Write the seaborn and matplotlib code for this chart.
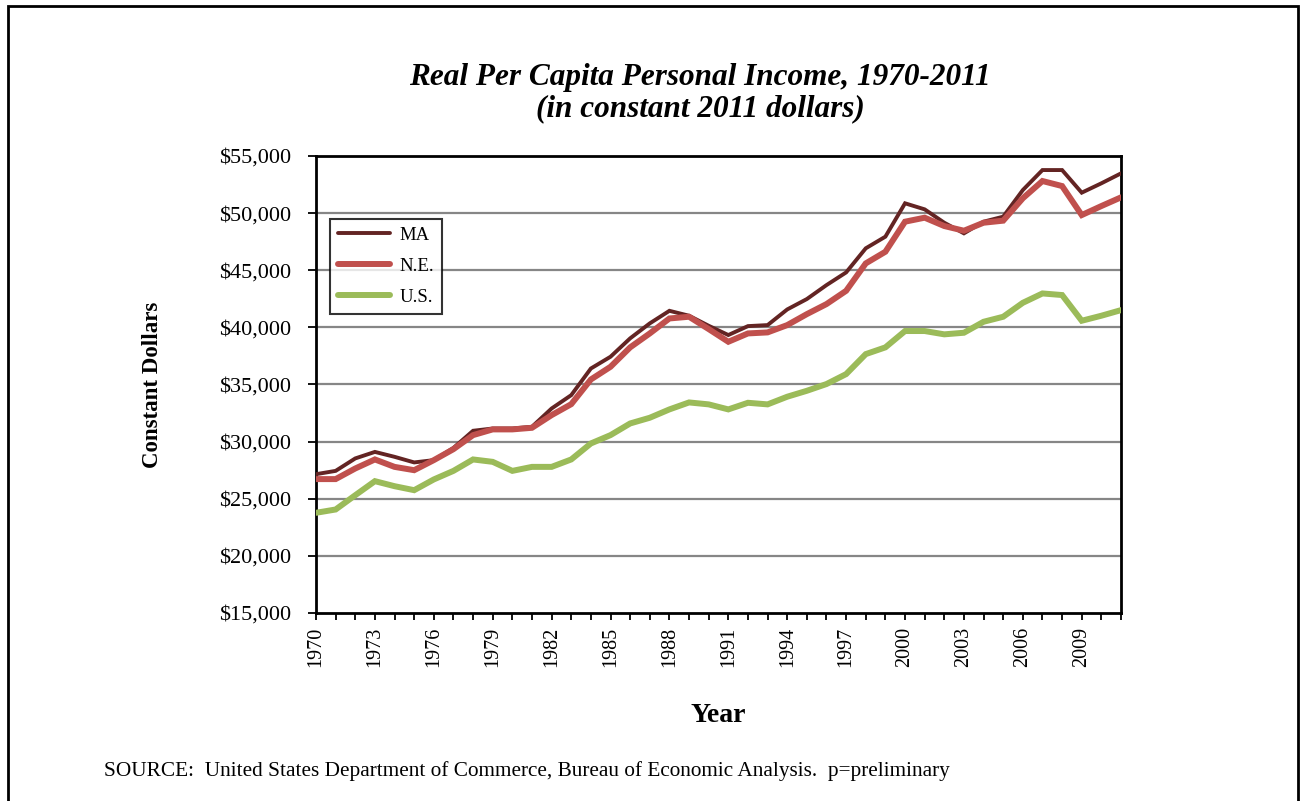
import matplotlib
matplotlib.use("Agg")
import matplotlib.pyplot as plt
import matplotlib.patches as mpatches
import seaborn as sns
import pandas as pd
import numpy as np

years = list(range(1970, 2012))
ma = [27150, 27440, 28530, 29100, 28670, 28180, 28380, 29450, 30950, 31150,
      31150, 31300, 32900, 34070, 36400, 37430, 39040, 40350, 41450, 41020,
      40140, 39330, 40110, 40200, 41570, 42480, 43700, 44810, 46920, 47940,
      50860, 50330, 49160, 48230, 49250, 49690, 52020, 53770, 53770, 51790,
      52610, 53480]
ne = [26720, 26720, 27650, 28440, 27790, 27500, 28380, 29340, 30570, 31070,
      31070, 31210, 32320, 33280, 35440, 36550, 38250, 39470, 40780, 40930,
      39850, 38740, 39470, 39560, 40200, 41160, 42040, 43200, 45600, 46620,
      49250, 49600, 48870, 48460, 49160, 49340, 51300, 52810, 52370, 49830,
      50620, 51380]
us = [23770, 24060, 25310, 26540, 26100, 25750, 26690, 27440, 28440, 28230,
      27440, 27790, 27790, 28440, 29840, 30570, 31590, 32090, 32820, 33430,
      33260, 32820, 33400, 33260, 33930, 34450, 35040, 35910, 37660, 38250,
      39680, 39680, 39390, 39530, 40490, 40930, 42150, 42970, 42830, 40580,
      41020, 41510]
series_names = ["MA", "N.E.", "U.S."]
colors = ["#632423", "#C0504D", "#9BBB59"]
widths = [2.8, 4.3, 4.3]
yticks = list(range(15000, 55001, 5000))
xtick_years = list(range(1970, 2011, 3))

df = pd.DataFrame({"Year": years * 3,
                   "Value": ma + ne + us,
                   "Series": ["MA"] * len(years) + ["N.E."] * len(years) + ["U.S."] * len(years)})

sns.set_style("white")
plt.rcParams["font.family"] = ["Liberation Serif", "DejaVu Serif"]
plt.rcParams["text.color"] = "black"
plt.rcParams["axes.labelcolor"] = "black"
plt.rcParams["xtick.color"] = "black"
plt.rcParams["ytick.color"] = "black"

fig = plt.figure(figsize=(13, 8.01), dpi=100)
ax = fig.add_axes([316 / 1300, 1 - 613 / 801, (1121 - 316) / 1300, (613 - 156) / 801])

for name, c, w in zip(series_names, colors, widths):
    sub = df[df["Series"] == name]
    sns.lineplot(data=sub, x="Year", y="Value", ax=ax, color=c, linewidth=w,
                 label=name, solid_capstyle="round", solid_joinstyle="miter", zorder=3)

ax.set_xlim(1970, 2011)
ax.set_ylim(15000, 55000)
ax.set_yticks(yticks)
ax.set_yticklabels([f"${v:,.0f}" for v in yticks], fontsize=16)
ax.set_xticks(years, minor=True)
ax.set_xticks(xtick_years)
ax.set_xticklabels([str(y) for y in xtick_years], rotation=90, fontsize=14.5)
ax.tick_params(axis="x", which="both", direction="out", length=5, width=1.3, bottom=True, pad=5)
ax.tick_params(axis="y", direction="out", length=6, width=1.3, left=True, pad=12)
for yv in yticks[1:-1]:
    ax.axhline(yv, color="#868686", linewidth=1.6, zorder=1)
for s in ax.spines.values():
    s.set_color("black")
    s.set_linewidth(2)

ax.set_xlabel("Year", fontsize=20, fontweight="bold", labelpad=26)
ax.set_ylabel("Constant Dollars", fontsize=16.5, fontweight="bold", labelpad=40)

leg = ax.legend(loc="upper left", bbox_to_anchor=(14 / 805, 1 - 63 / 457), frameon=True,
                fancybox=False, edgecolor="black", fontsize=13.5, handlelength=2.8,
                handletextpad=0.5, labelspacing=0.75, borderpad=0.4, borderaxespad=0)
leg.get_frame().set_linewidth(1.5)

fig.text(700 / 1300, 1 - 78 / 801, "Real Per Capita Personal Income, 1970-2011",
         ha="center", va="center", fontsize=22.5, fontweight="bold", style="italic")
fig.text(700 / 1300, 1 - 109 / 801, "(in constant 2011 dollars)",
         ha="center", va="center", fontsize=22.5, fontweight="bold", style="italic")
fig.text(104 / 1300, 1 - 771 / 801,
         "SOURCE:  United States Department of Commerce, Bureau of Economic Analysis.  p=preliminary",
         ha="left", va="center", fontsize=15.3)

border = mpatches.Rectangle((7.5 / 1300, -0.05), (1298 - 7.5) / 1300, 1 - 5.5 / 801 + 0.05,
                            transform=fig.transFigure, fill=False, edgecolor="black",
                            linewidth=2, clip_on=False)
fig.patches.append(border)

fig.savefig("out.png", dpi=100)
